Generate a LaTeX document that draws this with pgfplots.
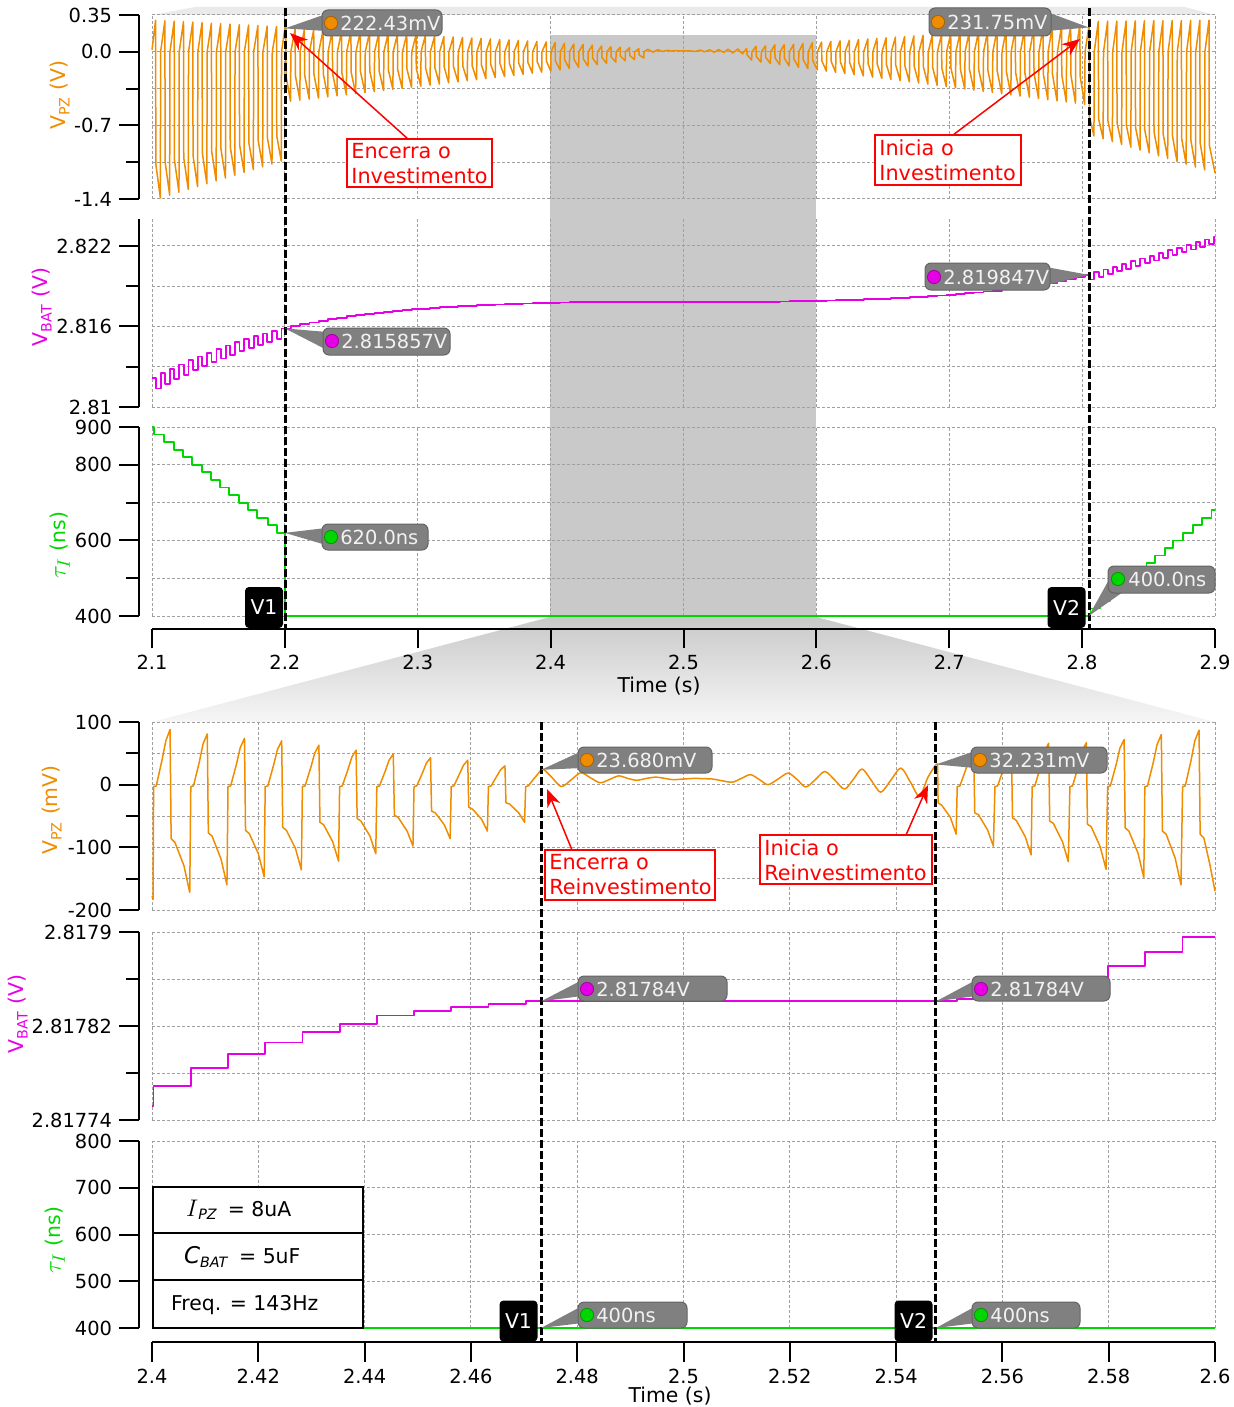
\documentclass[border=0pt]{standalone}
\usepackage{fontspec}
\setmainfont{DejaVu Sans}
\usepackage{pgfplots}
\pgfplotsset{compat=1.18}
\usetikzlibrary{arrows.meta}

\definecolor{cOr}{RGB}{240,140,0}
\definecolor{cMg}{RGB}{230,0,230}
\definecolor{cGr}{RGB}{0,215,0}
\definecolor{cGrid}{RGB}{160,160,160}
\definecolor{cBox}{RGB}{128,128,128}
\definecolor{cBoxD}{RGB}{100,100,100}
\definecolor{cTxt}{RGB}{242,242,242}
\definecolor{cShade}{RGB}{201,201,201}
\definecolor{cBand}{RGB}{234,234,234}
\definecolor{cFade}{RGB}{246,246,246}

\newcommand{\tf}{\fontsize{9.7}{11.5}\selectfont}
\newcommand{\lf}{\fontsize{10.2}{12.5}\selectfont}
\newcommand{\rf}{\fontsize{10.4}{12.5}\selectfont}
\newcommand{\tauI}{{\fontsize{12.5}{14}\selectfont$\tau_I$}}

\pgfplotsset{
  every axis plot/.append style={line join=round},
  panel/.style={scale only axis, width=531.5pt, clip=false,
    axis line style={draw=none}, major tick length=0pt, minor tick length=0pt,
    xticklabels={}, yticklabels={}, grid=major,
    major grid style={draw=cGrid, line width=0.5pt, dash pattern=on 1.5pt off 1pt}},
  topx/.style={xmin=2.1, xmax=2.9, xtick={2.1,2.2,2.3,2.4,2.5,2.6,2.7,2.8,2.9}},
  botx/.style={xmin=2.4, xmax=2.6, xtick={2.4,2.42,2.44,2.46,2.48,2.5,2.52,2.54,2.56,2.58,2.6}},
  yspine/.style={scale only axis, width=1pt, xmin=0, xmax=1, axis x line=none,
    axis y line*=left, xtick=\empty, tick align=outside, major tick length=10pt,
    minor tick length=6.5pt, tick style={black, line width=1pt},
    axis line style={black, line width=1pt}, yticklabel style={font=\tf}},
  xspine/.style={scale only axis, height=1pt, width=531.5pt, ymin=0, ymax=1, axis y line=none,
    axis x line*=bottom, ytick=\empty, tick align=outside, major tick length=10pt,
    tick style={black, line width=1pt}, axis line style={black, line width=1pt},
    xticklabel style={font=\tf}},
}

% callout with the box to the right of the point
\newcommand{\callR}[8]{%
  \fill[cBox] (#1) -- (#2+4,#3+4) -- (#2+4,#5-5) -- cycle;
  \draw[fill=cBox, draw=cBoxD, line width=0.5pt, rounded corners=3pt] (#2,#3) rectangle (#4,#5);
  \filldraw[fill=#6, draw=#6!70!black, line width=0.4pt] (#2+9,#8) circle (3.3pt);
  \node[anchor=west, inner sep=0pt, text=cTxt, font=\tf] at (#2+18,#8) {#7};}
% callout with the box to the left of the point
\newcommand{\callL}[8]{%
  \fill[cBox] (#1) -- (#4-4,#3+4) -- (#4-4,#5-5) -- cycle;
  \draw[fill=cBox, draw=cBoxD, line width=0.5pt, rounded corners=3pt] (#2,#3) rectangle (#4,#5);
  \filldraw[fill=#6, draw=#6!70!black, line width=0.4pt] (#2+9,#8) circle (3.3pt);
  \node[anchor=west, inner sep=0pt, text=cTxt, font=\tf] at (#2+18,#8) {#7};}

\begin{document}
\begin{tikzpicture}
\useasboundingbox (0,0) rectangle (617pt,-703.5pt);

% ---------- background shading (zoom window) ----------
\begin{scope}[x=0.5pt,y=-0.5pt]
  \fill[cBand] (152,15) -- (195,7) -- (1185,7) -- (1215,15) -- cycle;
  \fill[cShade] (550,35) rectangle (816,617);
  \shade[top color=cShade, bottom color=cFade] (550,617) -- (816,617) -- (1215,722) -- (152,722) -- cycle;
\end{scope}

% ================= upper group: 2.1 s to 2.9 s =================
% V_PZ (V)
\begin{axis}[panel, topx, at={(76pt,-99.5pt)}, anchor=south west, height=92pt,
  ymin=-1.4, ymax=0.35, ytick={-1.4,-1.05,-0.7,-0.35,0,0.35}]
\addplot[cOr, line width=0.75pt] coordinates {
(2.1,0.02)(2.1027,0.300)(2.1029,-1.070)(2.1063,-1.390)
(2.1065,0)(2.1097,0.295)(2.1099,-1.050)(2.1133,-1.363)
(2.1135,0)(2.1167,0.291)(2.1169,-1.029)(2.1203,-1.336)
(2.1205,0)(2.1237,0.286)(2.1239,-1.008)(2.1273,-1.309)
(2.1275,0)(2.1307,0.282)(2.1309,-0.987)(2.1343,-1.282)
(2.1345,0)(2.1377,0.277)(2.1379,-0.966)(2.1413,-1.255)
(2.1415,0)(2.1447,0.272)(2.1449,-0.946)(2.1483,-1.228)
(2.1485,0)(2.1517,0.268)(2.1519,-0.925)(2.1553,-1.201)
(2.1555,0)(2.1587,0.263)(2.1589,-0.904)(2.1623,-1.174)
(2.1625,0)(2.1657,0.258)(2.1659,-0.883)(2.1693,-1.147)
(2.1695,0)(2.1727,0.254)(2.1729,-0.863)(2.1763,-1.121)
(2.1765,0)(2.1797,0.249)(2.1799,-0.842)(2.1833,-1.094)
(2.1835,0)(2.1867,0.245)(2.1869,-0.822)(2.1903,-1.067)
(2.1905,0)(2.1937,0.240)(2.1939,-0.801)(2.1973,-1.040)
(2.1975,0)(2.2,0.2224)(2.2007,0.235)(2.2009,-0.235)(2.2043,-0.470)
(2.2045,0)(2.2077,0.220)(2.2079,-0.225)(2.2113,-0.460)
(2.2115,0)(2.2147,0.215)(2.2149,-0.220)(2.2183,-0.450)
(2.2185,0)(2.2217,0.211)(2.2219,-0.215)(2.2253,-0.440)
(2.2255,0)(2.2287,0.206)(2.2289,-0.210)(2.2323,-0.429)
(2.2325,0)(2.2357,0.201)(2.2359,-0.205)(2.2393,-0.419)
(2.2395,0)(2.2427,0.197)(2.2429,-0.200)(2.2463,-0.409)
(2.2465,0)(2.2497,0.192)(2.2499,-0.195)(2.2533,-0.399)
(2.2535,0)(2.2567,0.187)(2.2569,-0.190)(2.2603,-0.388)
(2.2605,0)(2.2637,0.183)(2.2639,-0.185)(2.2673,-0.378)
(2.2675,0)(2.2707,0.178)(2.2709,-0.180)(2.2743,-0.368)
(2.2745,0)(2.2777,0.173)(2.2779,-0.175)(2.2813,-0.358)
(2.2815,0)(2.2847,0.169)(2.2849,-0.170)(2.2883,-0.348)
(2.2885,0)(2.2917,0.164)(2.2919,-0.165)(2.2953,-0.337)
(2.2955,0)(2.2987,0.159)(2.2989,-0.160)(2.3023,-0.327)
(2.3025,0)(2.3057,0.155)(2.3059,-0.155)(2.3093,-0.317)
(2.3095,0)(2.3127,0.150)(2.3129,-0.150)(2.3163,-0.307)
(2.3165,0)(2.3197,0.145)(2.3199,-0.145)(2.3233,-0.296)
(2.3235,0)(2.3267,0.141)(2.3269,-0.140)(2.3303,-0.286)
(2.3305,0)(2.3337,0.136)(2.3339,-0.135)(2.3373,-0.276)
(2.3375,0)(2.3407,0.131)(2.3409,-0.130)(2.3443,-0.266)
(2.3445,0)(2.3477,0.127)(2.3479,-0.125)(2.3513,-0.256)
(2.3515,0)(2.3547,0.122)(2.3549,-0.120)(2.3583,-0.245)
(2.3585,0)(2.3617,0.117)(2.3619,-0.115)(2.3653,-0.235)
(2.3655,0)(2.3687,0.113)(2.3689,-0.110)(2.3723,-0.225)
(2.3725,0)(2.3757,0.108)(2.3759,-0.105)(2.3793,-0.215)
(2.3795,0)(2.3827,0.103)(2.3829,-0.100)(2.3863,-0.204)
(2.3865,0)(2.3897,0.099)(2.3899,-0.095)(2.3933,-0.194)
(2.3935,0)(2.3967,0.094)(2.3969,-0.090)(2.4001,-0.184)
(2.4003,0)(2.4034,0.088)(2.4036,-0.086)(2.4071,-0.172)
(2.4073,0)(2.4104,0.081)(2.4106,-0.077)(2.4141,-0.160)
(2.4143,0)(2.4174,0.074)(2.4176,-0.073)(2.4211,-0.147)
(2.4213,0)(2.4244,0.070)(2.4246,-0.068)(2.4281,-0.136)
(2.4283,0)(2.4314,0.063)(2.4316,-0.060)(2.4351,-0.122)
(2.4353,0)(2.4384,0.055)(2.4386,-0.054)(2.4421,-0.110)
(2.4423,0)(2.4454,0.049)(2.4456,-0.049)(2.4491,-0.098)
(2.4493,0)(2.4524,0.043)(2.4526,-0.042)(2.4561,-0.086)
(2.4563,0)(2.4594,0.039)(2.4596,-0.036)(2.4631,-0.074)
(2.4633,0)(2.4664,0.030)(2.4666,-0.029)(2.4701,-0.060)
(2.4703,0)(2.4732,0.024)(2.4770,-0.003)(2.4807,0.019)(2.4843,0.003)(2.4878,0.014)
(2.4912,0.007)(2.4948,0.012)(2.4980,0.008)(2.5020,0.010)(2.5092,0.004)(2.5126,0.016)
(2.5159,0)(2.5197,0.019)(2.5230,-0.004)(2.5266,0.021)(2.5303,-0.007)(2.5336,0.025)
(2.5371,-0.012)(2.5409,0.027)(2.5444,-0.019)(2.5475,0.032)(2.5479,-0.029)(2.5513,-0.079)
(2.5515,0)(2.5546,0.053)(2.5548,-0.045)(2.5583,-0.098)
(2.5586,0)(2.5617,0.056)(2.5619,-0.053)(2.5654,-0.112)
(2.5656,0)(2.5687,0.066)(2.5689,-0.058)(2.5724,-0.123)
(2.5727,0)(2.5758,0.067)(2.5760,-0.063)(2.5795,-0.135)
(2.5798,0)(2.5829,0.072)(2.5831,-0.069)(2.5866,-0.148)
(2.5868,0)(2.5899,0.080)(2.5901,-0.074)(2.5936,-0.160)
(2.5939,0)(2.5970,0.087)(2.5972,-0.079)(2.6007,-0.173)
(2.6008,0)(2.6039,0.093)(2.6041,-0.085)(2.6075,-0.184)
(2.6078,0)(2.6109,0.099)(2.6111,-0.090)(2.6145,-0.196)
(2.6147,0)(2.6178,0.104)(2.6180,-0.095)(2.6214,-0.207)
(2.6217,0)(2.6248,0.110)(2.6250,-0.100)(2.6284,-0.218)
(2.6286,0)(2.6317,0.116)(2.6319,-0.106)(2.6353,-0.229)
(2.6356,0)(2.6387,0.122)(2.6389,-0.111)(2.6423,-0.241)
(2.6425,0)(2.6456,0.128)(2.6458,-0.116)(2.6492,-0.252)
(2.6494,0)(2.6525,0.133)(2.6527,-0.121)(2.6561,-0.263)
(2.6564,0)(2.6595,0.139)(2.6597,-0.126)(2.6631,-0.275)
(2.6633,0)(2.6664,0.145)(2.6666,-0.132)(2.6700,-0.286)
(2.6703,0)(2.6734,0.151)(2.6736,-0.137)(2.6770,-0.297)
(2.6772,0)(2.6803,0.156)(2.6805,-0.142)(2.6839,-0.308)
(2.6842,0)(2.6873,0.162)(2.6875,-0.147)(2.6909,-0.320)
(2.6911,0)(2.6942,0.168)(2.6944,-0.153)(2.6978,-0.331)
(2.6980,0)(2.7011,0.174)(2.7013,-0.158)(2.7047,-0.342)
(2.7050,0)(2.7081,0.180)(2.7083,-0.163)(2.7117,-0.353)
(2.7119,0)(2.7150,0.185)(2.7152,-0.168)(2.7186,-0.365)
(2.7189,0)(2.7220,0.191)(2.7222,-0.173)(2.7256,-0.376)
(2.7258,0)(2.7289,0.197)(2.7291,-0.179)(2.7325,-0.387)
(2.7328,0)(2.7359,0.203)(2.7361,-0.184)(2.7395,-0.399)
(2.7397,0)(2.7428,0.209)(2.7430,-0.189)(2.7464,-0.410)
(2.7466,0)(2.7497,0.214)(2.7499,-0.194)(2.7533,-0.421)
(2.7536,0)(2.7567,0.220)(2.7569,-0.199)(2.7603,-0.432)
(2.7605,0)(2.7636,0.226)(2.7638,-0.205)(2.7672,-0.444)
(2.7675,0)(2.7706,0.232)(2.7708,-0.210)(2.7742,-0.455)
(2.7744,0)(2.7775,0.238)(2.7777,-0.215)(2.7811,-0.466)
(2.7814,0)(2.7845,0.243)(2.7847,-0.220)(2.7881,-0.477)
(2.7883,0)(2.7914,0.249)(2.7916,-0.225)(2.7950,-0.489)
(2.7952,0)(2.7983,0.255)(2.7985,-0.230)(2.8019,-0.500)
(2.8022,0)(2.8050,0.23175)(2.8053,0.290)(2.8055,-0.616)(2.8089,-0.800)
(2.8091,0)(2.8122,0.291)(2.8124,-0.637)(2.8158,-0.827)
(2.8161,0)(2.8192,0.292)(2.8194,-0.658)(2.8228,-0.854)
(2.8230,0)(2.8261,0.292)(2.8263,-0.678)(2.8297,-0.881)
(2.8300,0)(2.8331,0.293)(2.8333,-0.699)(2.8367,-0.908)
(2.8369,0)(2.8400,0.294)(2.8402,-0.720)(2.8436,-0.935)
(2.8438,0)(2.8469,0.295)(2.8471,-0.741)(2.8505,-0.962)
(2.8508,0)(2.8539,0.296)(2.8541,-0.762)(2.8575,-0.989)
(2.8577,0)(2.8608,0.296)(2.8610,-0.782)(2.8644,-1.015)
(2.8647,0)(2.8678,0.297)(2.8680,-0.802)(2.8714,-1.042)
(2.8716,0)(2.8747,0.298)(2.8749,-0.823)(2.8783,-1.069)
(2.8786,0)(2.8817,0.299)(2.8819,-0.844)(2.8853,-1.096)
(2.8855,0)(2.8886,0.300)(2.8888,-0.865)(2.8922,-1.123)
(2.8924,0)(2.8955,0.300)(2.8957,-0.886)(2.9,-1.150)
};
\coordinate (tA) at (axis cs:2.2,0.2224);
\coordinate (tB) at (axis cs:2.805,0.23175);
\end{axis}
\begin{axis}[yspine, at={(69.5pt,-99.5pt)}, anchor=south west, height=92pt,
  ymin=-1.4, ymax=0.35, ytick={-1.4,-0.7,0,0.35}, yticklabels={-1.4,-0.7,0.0,0.35},
  minor ytick={-1.05,-0.35}]
\end{axis}

% V_BAT (V)
\begin{axis}[panel, topx, at={(76pt,-203.5pt)}, anchor=south west, height=94pt,
  ymin=2.81, ymax=2.82401, ytick={2.81,2.813,2.816,2.819,2.822}]
\addplot[cMg, const plot, line width=0.9pt] coordinates {
(2.1,2.812180)(2.1028,2.811380)(2.1065,2.812522)(2.1098,2.811736)(2.1135,2.812852)(2.1168,2.812081)
(2.1205,2.813169)(2.1238,2.812412)(2.1275,2.813475)(2.1308,2.812732)(2.1345,2.813768)(2.1378,2.813039)
(2.1415,2.814049)(2.1448,2.813335)(2.1485,2.814319)(2.1518,2.813619)(2.1555,2.814576)(2.1588,2.813890)
(2.1625,2.814820)(2.1658,2.814149)(2.1695,2.815053)(2.1728,2.814396)(2.1765,2.815274)(2.1798,2.814631)
(2.1835,2.815482)(2.1868,2.814854)(2.1905,2.815678)(2.1938,2.815064)(2.1975,2.815857)
(2.2045,2.816017)(2.2115,2.816165)(2.2185,2.816302)(2.2255,2.816429)(2.2325,2.816546)(2.2395,2.816654)
(2.2465,2.816754)(2.2535,2.816847)(2.2605,2.816933)(2.2675,2.817012)(2.2745,2.817085)(2.2815,2.817153)
(2.2885,2.817216)(2.2955,2.817274)(2.3025,2.817328)(2.3095,2.817378)(2.3165,2.817424)(2.3235,2.817466)
(2.3305,2.817505)(2.3375,2.817542)(2.3445,2.817575)(2.3515,2.817607)(2.3585,2.817635)(2.3655,2.817662)
(2.3725,2.817687)(2.3795,2.817709)(2.3865,2.817730)(2.3935,2.817750)
(2.4003,2.817769)(2.4073,2.817784)(2.4143,2.817796)(2.4213,2.817806)(2.4283,2.817815)(2.4353,2.817822)
(2.4423,2.817829)(2.4493,2.817833)(2.4563,2.817836)(2.4633,2.817839)(2.4703,2.817841)
(2.5515,2.817843)(2.5586,2.817847)(2.5656,2.817853)(2.5727,2.817861)(2.5798,2.817871)(2.5868,2.817883)
(2.5939,2.817896)(2.6008,2.817913)(2.6078,2.817931)(2.6147,2.817951)(2.6217,2.817972)(2.6286,2.817995)
(2.6356,2.818020)(2.6425,2.818046)(2.6494,2.818075)(2.6564,2.818107)(2.6633,2.818141)(2.6703,2.818177)
(2.6772,2.818217)(2.6842,2.818260)(2.6911,2.818306)(2.6980,2.818356)(2.7050,2.818410)(2.7119,2.818468)
(2.7189,2.818531)(2.7258,2.818600)(2.7328,2.818673)(2.7397,2.818753)(2.7466,2.818839)(2.7536,2.818933)
(2.7605,2.819033)(2.7675,2.819142)(2.7744,2.819260)(2.7814,2.819387)(2.7883,2.819525)(2.7952,2.819674)
(2.8022,2.819847)(2.8055,2.819497)(2.8091,2.820050)(2.8124,2.819700)(2.8161,2.820253)(2.8194,2.819903)
(2.8230,2.820456)(2.8263,2.820106)(2.8300,2.820659)(2.8333,2.820309)(2.8369,2.820862)(2.8402,2.820512)
(2.8438,2.821065)(2.8471,2.820715)(2.8508,2.821268)(2.8541,2.820918)(2.8577,2.821471)(2.8610,2.821121)
(2.8647,2.821674)(2.8680,2.821324)(2.8716,2.821877)(2.8749,2.821527)(2.8786,2.822080)(2.8819,2.821730)
(2.8855,2.822283)(2.8888,2.821933)(2.8924,2.822486)(2.8957,2.822136)(2.8994,2.822689)(2.9,2.822689)
};
\coordinate (tC) at (axis cs:2.2,2.815857);
\coordinate (tD) at (axis cs:2.805,2.819847);
\end{axis}
\begin{axis}[yspine, at={(69.5pt,-203.5pt)}, anchor=south west, height=94pt,
  ymin=2.81, ymax=2.82401, ytick={2.81,2.816,2.822}, yticklabels={2.81,2.816,2.822},
  minor ytick={2.813,2.819}]
\end{axis}

% tau_I (ns)
\begin{axis}[panel, topx, at={(76pt,-308pt)}, anchor=south west, height=94.5pt,
  ymin=400, ymax=900, ytick={400,500,600,700,800,900}]
\addplot[cGr, const plot, line width=0.9pt] coordinates {
(2.1,900)(2.1015,880)(2.1090,860)(2.1166,840)(2.1234,820)(2.1301,800)(2.1377,780)(2.1445,760)
(2.1512,740)(2.1580,720)(2.1655,700)(2.1723,680)(2.1791,660)(2.1874,640)(2.1941,620)(2.2,400)
(2.8063,420)(2.8133,440)(2.8208,460)(2.8271,480)(2.8346,500)(2.8414,520)(2.8485,540)(2.8547,560)
(2.8622,580)(2.8685,600)(2.8760,620)(2.8835,640)(2.8905,660)(2.8973,680)(2.9,680)
};
\coordinate (tE) at (axis cs:2.2,620);
\coordinate (tF) at (axis cs:2.805,400);
\end{axis}
\begin{axis}[yspine, at={(69.5pt,-308pt)}, anchor=south west, height=94.5pt,
  ymin=400, ymax=900, ytick={400,600,800,900}, yticklabels={400,600,800,900},
  minor ytick={500,700}]
\end{axis}

\begin{axis}[xspine, topx, at={(76pt,-314.25pt)}, anchor=south west,
  xticklabels={2.1,2.2,2.3,2.4,2.5,2.6,2.7,2.8,2.9}]
\end{axis}

% ================= lower group: 2.4 s to 2.6 s =================
% V_PZ (mV)
\begin{axis}[panel, botx, at={(76pt,-455pt)}, anchor=south west, height=94pt,
  ymin=-200, ymax=100, ytick={-200,-150,-100,-50,0,50,100}]
\addplot[cOr, line width=0.75pt] coordinates {
(2.4,-178)(2.4002,-183)
(2.4003,-3)(2.4008,-2)(2.4019,40)(2.4026,70)(2.4034,88)(2.4036,-86)(2.4043,-92)(2.4060,-129)(2.4071,-172)
(2.4073,-3)(2.4078,-2)(2.4089,36)(2.4096,65)(2.4104,81)(2.4106,-77)(2.4113,-82)(2.4130,-119)(2.4141,-160)
(2.4143,-3)(2.4148,-2)(2.4159,33)(2.4166,59)(2.4174,74)(2.4176,-73)(2.4183,-78)(2.4200,-110)(2.4211,-147)
(2.4213,-3)(2.4218,-2)(2.4229,32)(2.4236,56)(2.4244,70)(2.4246,-68)(2.4253,-73)(2.4270,-102)(2.4281,-136)
(2.4283,-3)(2.4288,-2)(2.4299,28)(2.4306,50)(2.4314,63)(2.4316,-60)(2.4323,-64)(2.4340,-91)(2.4351,-122)
(2.4353,-3)(2.4358,-2)(2.4369,25)(2.4376,44)(2.4384,55)(2.4386,-54)(2.4393,-58)(2.4410,-82)(2.4421,-110)
(2.4423,-3)(2.4428,-2)(2.4439,22)(2.4446,39)(2.4454,49)(2.4456,-49)(2.4463,-52)(2.4480,-74)(2.4491,-98)
(2.4493,-3)(2.4498,-2)(2.4509,19)(2.4516,34)(2.4524,43)(2.4526,-42)(2.4533,-45)(2.4550,-64)(2.4561,-86)
(2.4563,-3)(2.4568,-2)(2.4579,18)(2.4586,31)(2.4594,39)(2.4596,-36)(2.4603,-39)(2.4620,-55)(2.4631,-74)
(2.4633,-3)(2.4638,-2)(2.4649,14)(2.4656,24)(2.4664,30)(2.4666,-29)(2.4673,-31)(2.4690,-45)(2.4701,-60)
(2.4703,-3)(2.4708,-2)(2.4719,10)(2.4726,17)(2.4732,23.68)
};
% free ringing between V1 and V2
\addplot[cOr, line width=0.75pt, smooth, tension=0.5] coordinates {
(2.4732,23.68)(2.4737,24.2)(2.4752,12)(2.4770,-3)(2.4789,8)(2.4807,19)(2.4825,11)(2.4843,3)
(2.4860,8)(2.4878,14)(2.4895,10)(2.4912,7)(2.4930,10)(2.4948,12)(2.4965,10)(2.4980,8)(2.5000,9)
(2.5020,10)(2.5040,9.5)(2.5055,9)(2.5074,6)(2.5092,4)(2.5109,10)(2.5126,16)(2.5143,8)(2.5159,0)
(2.5178,9)(2.5197,18.5)(2.5214,8)(2.5230,-3.7)(2.5248,8)(2.5266,21)(2.5285,7)(2.5303,-7)(2.5320,9)
(2.5336,25)(2.5354,6)(2.5371,-12)(2.5390,7)(2.5409,26.5)(2.5427,4)(2.5444,-18.5)(2.5460,12)(2.5475,32.231)
};
\addplot[cOr, line width=0.75pt] coordinates {
(2.5475,32.231)(2.5478,33)(2.5479,-29)(2.5486,-33)(2.5502,-52)(2.5513,-79)
(2.5515,-3)(2.5520,-2)(2.5531,24)(2.5538,42)(2.5546,53)(2.5548,-45)(2.5555,-48)(2.5572,-72)(2.5583,-98)
(2.5586,-3)(2.5591,-2)(2.5602,25)(2.5609,45)(2.5617,56)(2.5619,-53)(2.5626,-57)(2.5643,-83)(2.5654,-112)
(2.5656,-3)(2.5661,-2)(2.5672,30)(2.5679,53)(2.5687,66)(2.5689,-58)(2.5696,-62)(2.5713,-91)(2.5724,-123)
(2.5727,-3)(2.5732,-2)(2.5743,30)(2.5750,54)(2.5758,67)(2.5760,-63)(2.5767,-67)(2.5784,-99)(2.5795,-135)
(2.5798,-3)(2.5803,-2)(2.5814,32)(2.5821,58)(2.5829,72)(2.5831,-69)(2.5838,-74)(2.5855,-109)(2.5866,-148)
(2.5868,-3)(2.5873,-2)(2.5884,36)(2.5891,64)(2.5899,80)(2.5901,-74)(2.5908,-79)(2.5925,-117)(2.5936,-160)
(2.5939,-3)(2.5944,-2)(2.5955,39)(2.5962,70)(2.5970,87)(2.5972,-79)(2.5979,-85)(2.5990,-126)(2.6,-170)
};
\coordinate (tG) at (axis cs:2.4732,23.68);
\coordinate (tH) at (axis cs:2.5475,32.231);
\end{axis}
\begin{axis}[yspine, at={(69.5pt,-455pt)}, anchor=south west, height=94pt,
  ymin=-200, ymax=100, ytick={-200,-100,0,100}, yticklabels={-200,-100,0,100},
  minor ytick={-150,-50,50}]
\end{axis}

% V_BAT, stored in microvolts above 2.8177 V
\begin{axis}[panel, botx, at={(76pt,-560pt)}, anchor=south west, height=94pt,
  ymin=40, ymax=200, ytick={40,80,120,160,200}]
\addplot[cMg, const plot, line width=0.9pt] coordinates {
(2.4,52)(2.4003,69)(2.4073,84)(2.4143,96)(2.4213,106)(2.4283,115)(2.4353,122)(2.4423,129)
(2.4493,133)(2.4563,136)(2.4633,139)(2.4703,141)(2.5515,143)(2.5586,147)(2.5656,153)(2.5727,161)
(2.5798,171)(2.5868,183)(2.5939,196)(2.6,196)
};
\coordinate (tI) at (axis cs:2.4732,141);
\coordinate (tJ) at (axis cs:2.5475,141);
\end{axis}
\begin{axis}[yspine, at={(69.5pt,-560pt)}, anchor=south west, height=94pt,
  ymin=40, ymax=200, ytick={40,120,200}, yticklabels={2.81774,2.81782,2.8179},
  minor ytick={80,160}]
\end{axis}

% tau_I (ns)
\begin{axis}[panel, botx, at={(76pt,-664pt)}, anchor=south west, height=93.5pt,
  ymin=400, ymax=800, ytick={400,500,600,700,800}]
\addplot[cGr, line width=0.9pt] coordinates {(2.4,400)(2.6,400)};
\coordinate (tK) at (axis cs:2.4732,400);
\coordinate (tL) at (axis cs:2.5475,400);
\end{axis}
\begin{axis}[yspine, at={(69.5pt,-664pt)}, anchor=south west, height=93.5pt,
  ymin=400, ymax=800, ytick={400,500,600,700,800}, yticklabels={400,500,600,700,800}]
\end{axis}

\begin{axis}[xspine, botx, at={(76pt,-671pt)}, anchor=south west,
  xticklabels={2.4,2.42,2.44,2.46,2.48,2.5,2.52,2.54,2.56,2.58,2.6}]
\end{axis}

% ---------- markers, labels and notes ----------
\begin{scope}[x=0.5pt,y=-0.5pt]
  % V1 / V2 cursors
  \draw[black, line width=1.5pt, dash pattern=on 4pt off 1.5pt] (285,8) -- (285,628);
  \draw[black, line width=1.5pt, dash pattern=on 4pt off 1.5pt] (1089,8) -- (1089,628);
  \draw[black, line width=1.5pt, dash pattern=on 4pt off 1.5pt] (541,722) -- (541,1342);
  \draw[black, line width=1.5pt, dash pattern=on 4pt off 1.5pt] (935,722) -- (935,1342);

  % axis titles
  \node[rotate=90, text=cOr, font=\lf] at (60,95) {V\textsubscript{PZ} (V)};
  \node[rotate=90, text=cMg, font=\lf] at (42,307) {V\textsubscript{BAT} (V)};
  \node[rotate=90, text=cGr, font=\lf] at (60,545) {\tauI\ (ns)};
  \node[rotate=90, text=cOr, font=\lf] at (52,810) {V\textsubscript{PZ} (mV)};
  \node[rotate=90, text=cMg, font=\lf] at (18,1014) {V\textsubscript{BAT} (V)};
  \node[rotate=90, text=cGr, font=\lf] at (55,1240) {\tauI\ (ns)};
  \node[font=\lf] at (659,686) {Time (s)};
  \node[font=\lf] at (670,1396) {Time (s)};

  % cursor value callouts
  \callR{tA}{322}{10}{442}{36}{cOr}{222.43mV}{23}
  \callL{tB}{929}{8}{1051}{36}{cOr}{231.75mV}{22}
  \callR{tC}{323}{328}{450}{355}{cMg}{2.815857V}{341}
  \callL{tD}{925}{263}{1050}{290}{cMg}{2.819847V}{277}
  \callR{tE}{322}{524}{428}{550}{cGr}{620.0ns}{537}
  \fill[cBox] (tF) -- (1111,576) -- (1123,592) -- cycle;
  \draw[fill=cBox, draw=cBoxD, line width=0.5pt, rounded corners=3pt] (1108,566) rectangle (1215,593);
  \filldraw[fill=cGr, draw=cGr!70!black, line width=0.4pt] (1118,579) circle (3.3pt);
  \node[anchor=west, inner sep=0pt, text=cTxt, font=\tf] at (1128,579) {400.0ns};
  \callR{tG}{578}{747}{712}{773}{cOr}{23.680mV}{760}
  \callR{tH}{971}{747}{1107}{773}{cOr}{32.231mV}{760}
  \callR{tI}{578}{976}{727}{1001}{cMg}{2.81784V}{989}
  \callR{tJ}{972}{976}{1110}{1001}{cMg}{2.81784V}{989}
  \callR{tK}{578}{1302}{687}{1328}{cGr}{400ns}{1315}
  \callR{tL}{972}{1302}{1080}{1328}{cGr}{400ns}{1315}

  % cursor tags
  \foreach \cx/\cy/\ct in {264/607.5/V1, 1066.5/607.5/V2, 518.5/1321/V1, 913.5/1321/V2}
    \node[fill=black, text=white, rounded corners=2pt, minimum width=19pt,
          minimum height=20.5pt, inner sep=0pt, font=\lf] at (\cx,\cy) {\ct};

  % red notes
  \draw[red, line width=0.75pt, -{Stealth[length=9pt,width=7pt]}] (408,139) -- (290,33);
  \draw[red, line width=0.75pt, fill=white] (347,139) rectangle (492,187);
  \node[anchor=north west, align=left, text=red, font=\rf, inner sep=0pt] at (351,143) {Encerra o\\Investimento};
  \draw[red, line width=0.75pt, -{Stealth[length=9pt,width=7pt]}] (953,135) -- (1080,39);
  \draw[red, line width=0.75pt, fill=white] (875,135) rectangle (1021,185);
  \node[anchor=north west, align=left, text=red, font=\rf, inner sep=0pt] at (879,139) {Inicia o\\Investimento};
  \draw[red, line width=0.75pt, -{Stealth[length=9pt,width=7pt]}] (572,850) -- (547,789);
  \draw[red, line width=0.75pt, fill=white] (545,850) rectangle (715,900);
  \node[anchor=north west, align=left, text=red, font=\rf, inner sep=0pt] at (549,854) {Encerra o\\Reinvestimento};
  \draw[red, line width=0.75pt, -{Stealth[length=9pt,width=7pt]}] (906,835) -- (928,785);
  \draw[red, line width=0.75pt, fill=white] (760,835) rectangle (932,884);
  \node[anchor=north west, align=left, text=red, font=\rf, inner sep=0pt] at (764,839) {Inicia o\\Reinvestimento};

  % parameter table
  \draw[black, line width=0.75pt, fill=white] (153,1187) rectangle (363,1328);
  \draw[black, line width=0.75pt] (153,1233) -- (363,1233) (153,1280) -- (363,1280);
  \node[anchor=west, font=\lf] at (179,1210) {{\fontsize{12}{14}\selectfont$I$}\textsubscript{\textit{PZ}}\, = 8uA};
  \node[anchor=west, font=\lf] at (177,1257) {{\fontsize{11.5}{14}\selectfont\textit{C}}\textsubscript{\textit{BAT}}\, = 5uF};
  \node[anchor=west, font=\lf] at (164,1305) {Freq. = 143Hz};
\end{scope}
\end{tikzpicture}
\end{document}
